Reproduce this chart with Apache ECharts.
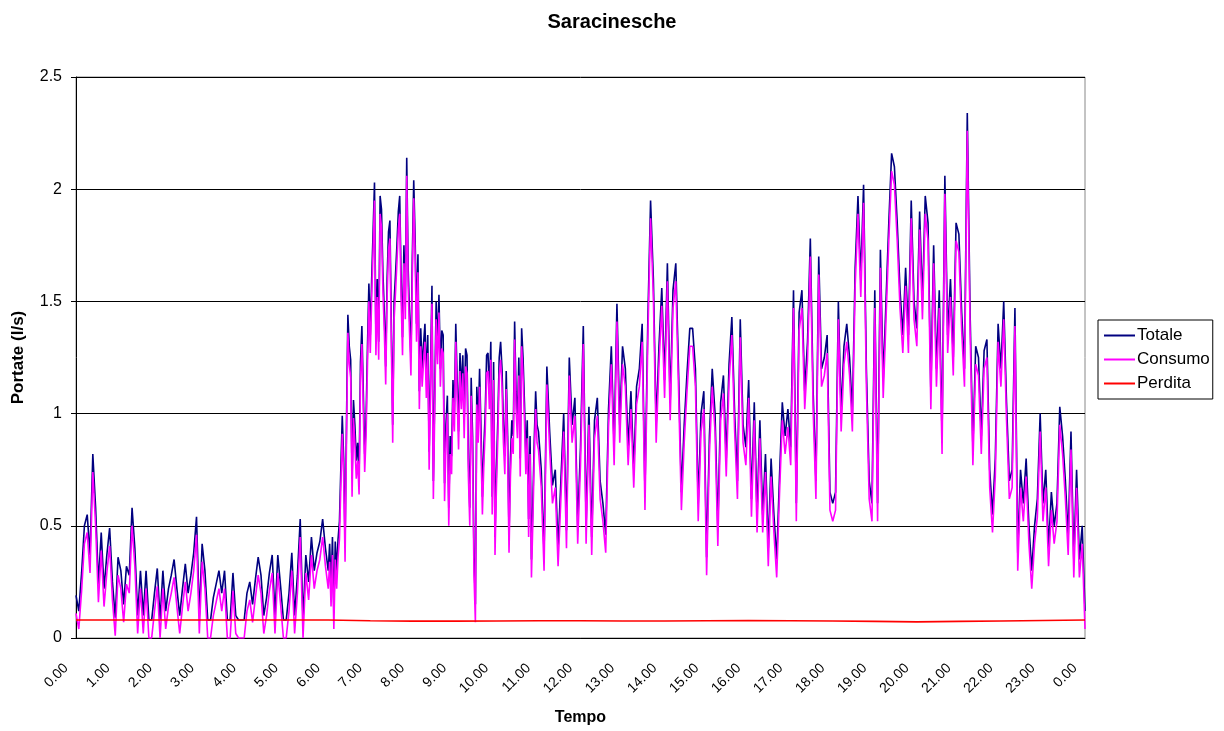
<!DOCTYPE html>
<html>
<head>
<meta charset="utf-8">
<title>Saracinesche</title>
<script src="https://cdn.jsdelivr.net/npm/echarts@6/dist/echarts.min.js"></script>
<style>
  html, body { margin: 0; padding: 0; background: #fff; }
  #chart { width: 1224px; height: 731px; }
</style>
</head>
<body>
<div id="chart"></div>
<script>
// Flow readings (l/s). Night and afternoon blocks are logged every 4 minutes,
// the morning block (6.00 - 11.00) every 2 minutes.

// 0.00 -> 5.56, step 4 min
const nightStart = 0, nightStep = 1 / 15;
const totaleNight = [
  0.19,0.12,0.29,0.50,0.55,0.37,0.82,0.58,0.24,0.47,0.22,0.37,0.49,0.25,0.09,
  0.36,0.30,0.15,0.32,0.28,0.58,0.40,0.10,0.30,0.10,0.30,0.08,0.08,0.20,0.31,
  0.08,0.30,0.12,0.22,0.28,0.35,0.22,0.10,0.22,0.33,0.20,0.28,0.38,0.54,0.10,
  0.42,0.30,0.08,0.08,0.18,0.24,0.30,0.20,0.30,0.08,0.08,0.29,0.10,0.08,0.08,
  0.08,0.20,0.25,0.15,0.26,0.36,0.28,0.10,0.18,0.29,0.37,0.10,0.37,0.23,0.08,
  0.08,0.20,0.38,0.10,0.28,0.53,0.08,0.37,0.25,0.45,0.30,0.38,0.43,0.53,0.40
];
const consumoNight = [
  0.11,0.04,0.21,0.42,0.47,0.29,0.74,0.50,0.16,0.39,0.14,0.29,0.41,0.17,0.01,
  0.28,0.22,0.07,0.24,0.20,0.50,0.32,0.02,0.22,0.02,0.22,0.00,0.00,0.12,0.23,
  0.00,0.22,0.04,0.14,0.20,0.27,0.14,0.02,0.14,0.25,0.12,0.20,0.30,0.46,0.02,
  0.34,0.22,0.00,0.00,0.10,0.16,0.22,0.12,0.22,0.00,0.00,0.21,0.02,0.00,0.00,
  0.00,0.12,0.17,0.07,0.18,0.28,0.20,0.02,0.10,0.21,0.29,0.02,0.29,0.15,0.00,
  0.00,0.12,0.30,0.02,0.20,0.45,0.00,0.29,0.17,0.37,0.22,0.30,0.35,0.45,0.32
];

// 6.00 -> 10.58, step 2 min
const morningStart = 6, morningStep = 1 / 30;
const totaleMorning = [
  0.30,0.42,0.22,0.45,0.12,0.43,0.30,0.44,0.52,0.76,0.99,0.80,0.42,0.95,1.44,1.30,1.24,0.71,1.06,0.95,0.79,0.87,0.72,1.23,1.39,1.10,0.82,0.98,1.30,1.58,
  1.35,1.60,1.81,2.03,1.34,1.60,1.32,1.97,1.91,1.63,1.45,1.21,1.60,1.81,1.86,1.40,0.95,1.50,1.62,1.75,1.90,1.97,1.60,1.34,1.75,1.50,2.14,1.65,1.44,1.25,
  1.70,2.04,1.78,1.40,1.71,1.10,1.38,1.20,1.31,1.40,1.15,1.35,0.83,1.20,1.57,0.70,1.10,1.50,1.30,1.53,1.20,1.37,1.35,0.69,0.95,1.08,0.58,0.90,0.81,1.15,
  1.00,1.40,1.15,0.92,1.27,1.10,1.26,0.97,1.29,1.26,0.80,0.58,1.16,0.90,0.36,0.15,1.12,0.95,1.20,0.93,0.63,0.85,1.00,1.26,1.27,1.10,1.32,0.63,1.23,0.45,
  0.75,0.97,1.25,1.32,1.20,0.95,0.81,1.19,0.90,0.46,0.80,0.97,0.90,1.41,1.10,0.97,1.25,0.80,1.38,1.25,1.05,0.81,0.97,0.53,0.90,0.35,0.60,0.88,1.10,0.95
];
const consumoMorning = [
  0.22,0.34,0.14,0.37,0.04,0.35,0.22,0.36,0.44,0.68,0.91,0.72,0.34,0.87,1.36,1.22,1.16,0.63,0.98,0.87,0.71,0.79,0.64,1.15,1.31,1.02,0.74,0.90,1.22,1.50,
  1.27,1.52,1.73,1.95,1.26,1.52,1.24,1.89,1.83,1.55,1.37,1.13,1.52,1.73,1.78,1.32,0.87,1.42,1.54,1.67,1.82,1.89,1.52,1.26,1.67,1.42,2.06,1.57,1.36,1.17,
  1.62,1.96,1.70,1.32,1.63,1.02,1.30,1.12,1.23,1.32,1.07,1.27,0.75,1.12,1.49,0.62,1.02,1.42,1.22,1.45,1.12,1.29,1.27,0.61,0.87,1.00,0.50,0.82,0.73,1.07,
  0.92,1.32,1.07,0.84,1.19,1.02,1.18,0.89,1.21,1.18,0.72,0.50,1.08,0.82,0.28,0.07,1.04,0.87,1.12,0.85,0.55,0.77,0.92,1.18,1.19,1.02,1.24,0.55,1.15,0.37,
  0.67,0.89,1.17,1.24,1.12,0.87,0.73,1.11,0.82,0.38,0.72,0.89,0.82,1.33,1.02,0.89,1.17,0.72,1.30,1.17,0.97,0.73,0.89,0.45,0.82,0.27,0.52,0.80,1.02,0.87
];

// 11.00 -> 24.00, step 4 min
const dayStart = 11, dayStep = 1 / 15;
const totaleDay = [
  0.92,0.75,0.38,1.21,0.92,0.68,0.75,0.40,0.70,1.00,0.48,1.25,0.95,1.07,0.50,
  0.85,1.39,0.50,1.03,0.45,0.97,1.07,0.70,0.60,0.46,1.02,1.30,0.85,1.49,0.95,
  1.30,1.20,0.85,1.10,0.75,1.12,1.20,1.40,0.65,1.40,1.95,1.60,0.95,1.30,1.56,
  1.15,1.67,1.05,1.55,1.67,1.18,0.65,0.95,1.18,1.38,1.38,1.20,0.60,1.00,1.10,
  0.36,0.90,1.20,1.00,0.49,1.05,1.17,0.80,1.22,1.43,1.00,0.70,1.42,0.95,0.85,
  1.15,0.62,1.05,0.55,0.97,0.55,0.82,0.40,0.80,0.55,0.35,0.72,1.05,0.90,1.02,
  0.85,1.55,0.60,1.45,1.55,1.10,1.32,1.78,1.10,0.70,1.70,1.20,1.25,1.35,0.65,
  0.60,0.65,1.50,1.00,1.30,1.40,1.25,1.00,1.65,1.97,1.60,2.02,1.20,0.70,0.60,
  1.55,0.60,1.73,1.15,1.50,1.85,2.16,2.10,1.85,1.55,1.35,1.65,1.35,1.95,1.50,
  1.38,1.90,1.50,1.97,1.85,1.10,1.75,1.20,1.55,0.90,2.06,1.35,1.60,1.25,1.85,
  1.80,1.45,1.20,2.34,1.45,0.85,1.30,1.25,0.90,1.28,1.33,0.75,0.55,0.80,1.40,
  1.20,1.50,1.05,0.70,0.75,1.47,0.38,0.75,0.60,0.80,0.50,0.30,0.50,0.62,1.00,
  0.60,0.75,0.40,0.65,0.50,0.60,1.03,0.90,0.70,0.45,0.92,0.35,0.75,0.35,0.50,
  0.12
];
const consumoDay = [
  0.84,0.67,0.30,1.13,0.84,0.60,0.67,0.32,0.62,0.92,0.40,1.17,0.87,0.99,0.42,
  0.77,1.31,0.42,0.95,0.37,0.89,0.99,0.62,0.52,0.38,0.94,1.22,0.77,1.41,0.87,
  1.22,1.12,0.77,1.02,0.67,1.04,1.12,1.32,0.57,1.32,1.87,1.52,0.87,1.22,1.48,
  1.07,1.59,0.97,1.47,1.59,1.10,0.57,0.87,1.10,1.30,1.30,1.12,0.52,0.92,1.02,
  0.28,0.82,1.12,0.92,0.41,0.97,1.09,0.72,1.14,1.35,0.92,0.62,1.34,0.87,0.77,
  1.07,0.54,0.97,0.47,0.89,0.47,0.74,0.32,0.72,0.47,0.27,0.64,0.97,0.82,0.94,
  0.77,1.47,0.52,1.37,1.47,1.02,1.24,1.70,1.02,0.62,1.62,1.12,1.17,1.27,0.57,
  0.52,0.57,1.42,0.92,1.22,1.32,1.17,0.92,1.57,1.89,1.52,1.94,1.12,0.62,0.52,
  1.47,0.52,1.65,1.07,1.42,1.77,2.08,2.02,1.77,1.47,1.27,1.57,1.27,1.87,1.42,
  1.30,1.82,1.42,1.89,1.77,1.02,1.67,1.12,1.47,0.82,1.98,1.27,1.52,1.17,1.77,
  1.72,1.37,1.12,2.26,1.37,0.77,1.22,1.17,0.82,1.20,1.25,0.67,0.47,0.72,1.32,
  1.12,1.42,0.97,0.62,0.67,1.39,0.30,0.67,0.52,0.72,0.42,0.22,0.42,0.54,0.92,
  0.52,0.67,0.32,0.57,0.42,0.52,0.95,0.82,0.62,0.37,0.84,0.27,0.67,0.27,0.42,
  0.04
];

// Leakage, one reading per hour (0.00 -> 24.00)
const perdita = [
  0.080,0.080,0.080,0.080,0.080,0.080,0.080,0.077,0.075,0.075,0.076,0.077,0.077,
  0.076,0.076,0.077,0.078,0.077,0.076,0.074,0.072,0.074,0.076,0.078,0.080
];

const hourLabels = [
  '0.00','1.00','2.00','3.00','4.00','5.00','6.00','7.00','8.00','9.00','10.00','11.00',
  '12.00','13.00','14.00','15.00','16.00','17.00','18.00','19.00','20.00','21.00',
  '22.00','23.00','0.00'
];

// [hour, value] pairs for a block of evenly spaced readings
const block = (arr, start, step) => arr.map((v, i) => [start + i * step, v]);

const totaleData = [
  ...block(totaleNight, nightStart, nightStep),
  ...block(totaleMorning, morningStart, morningStep),
  ...block(totaleDay, dayStart, dayStep)
];
const consumoData = [
  ...block(consumoNight, nightStart, nightStep),
  ...block(consumoMorning, morningStart, morningStep),
  ...block(consumoDay, dayStart, dayStep)
];
const perditaData = block(perdita, 0, 1);

const chart = echarts.init(document.getElementById('chart'), null, { renderer: 'canvas' });
const FONT = 'Liberation Sans, Arial, sans-serif';
// 2px horizontal stroke centred in a 31x17 legend cell
const LINE_ICON = 'path://M0,0M31,17M0,7.5L31,7.5L31,9.5L0,9.5Z';

chart.setOption({
  animation: false,
  backgroundColor: '#fff',
  textStyle: { fontFamily: FONT },
  title: {
    text: 'Saracinesche',
    left: 'center',
    top: 7,
    textStyle: { fontFamily: FONT, fontSize: 20, fontWeight: 'bold', color: '#000' }
  },
  grid: {
    left: 76, right: 139, top: 77, bottom: 91,
    show: true, borderColor: '#888', borderWidth: 1, backgroundColor: '#fff'
  },
  legend: {
    orient: 'vertical',
    left: 1098, top: 320,
    padding: [7, 3, 7, 6],
    borderColor: '#000', borderWidth: 1,
    icon: LINE_ICON,
    itemWidth: 31, itemHeight: 17, itemGap: 7,
    textStyle: { fontFamily: FONT, fontSize: 17, color: '#000', padding: [0, 0, 0, -3] },
    data: ['Totale', 'Consumo', 'Perdita']
  },
  xAxis: {
    type: 'value',
    min: 0, max: 24, interval: 1,
    name: 'Tempo',
    nameLocation: 'middle',
    nameGap: 72,
    nameTextStyle: { fontFamily: FONT, fontSize: 16, fontWeight: 'bold', color: '#000' },
    axisLine: { show: true, onZero: false, lineStyle: { color: '#000', width: 1 } },
    axisTick: { show: false },
    splitLine: { show: false },
    axisLabel: {
      rotate: 45,
      margin: 18,
      padding: [0, 14, 0, 0],
      fontFamily: FONT, fontSize: 14, color: '#000',
      formatter: v => hourLabels[Math.round(v)]
    }
  },
  yAxis: {
    type: 'value',
    min: 0, max: 2.5, interval: 0.5,
    name: 'Portate (l/s)',
    nameLocation: 'middle',
    nameGap: 49,
    nameTextStyle: { fontFamily: FONT, fontSize: 17, fontWeight: 'bold', color: '#000' },
    axisLine: { show: true, lineStyle: { color: '#000', width: 1 } },
    axisTick: { show: true, length: 5, lineStyle: { color: '#000' } },
    axisLabel: { fontFamily: FONT, fontSize: 16, color: '#000', margin: 14 },
    splitLine: { show: true, lineStyle: { color: '#000', width: 1 } }
  },
  series: [
    {
      name: 'Totale', type: 'line', symbol: 'none',
      data: totaleData,
      lineStyle: { color: '#000080', width: 1.6 },
      itemStyle: { color: '#000080' }
    },
    {
      name: 'Consumo', type: 'line', symbol: 'none',
      data: consumoData,
      lineStyle: { color: '#ff00ff', width: 1.6 },
      itemStyle: { color: '#ff00ff' }
    },
    {
      name: 'Perdita', type: 'line', symbol: 'none',
      data: perditaData,
      lineStyle: { color: '#ff0000', width: 1.6 },
      itemStyle: { color: '#ff0000' }
    }
  ]
});
</script>
</body>
</html>
